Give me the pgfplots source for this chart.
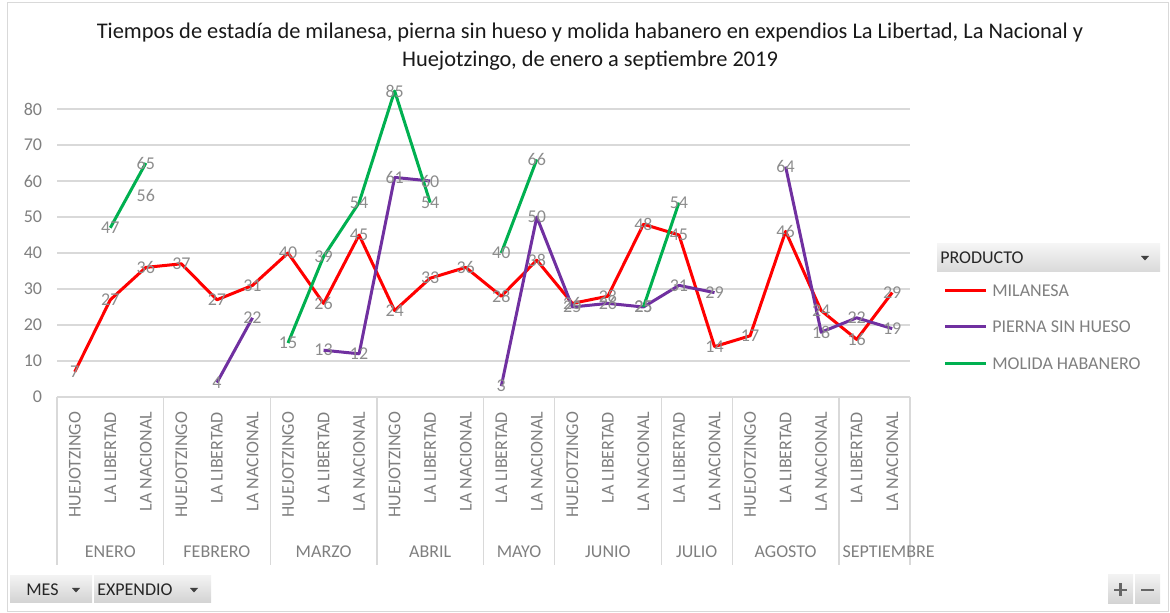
\documentclass[border=0pt]{standalone}
\usepackage{fontspec}
\setmainfont{Carlito}
\usepackage{pgfplots}
\usepackage{pgfplotstable}
\pgfplotsset{compat=1.18}
\definecolor{milred}{HTML}{FF0000}
\definecolor{piepur}{HTML}{7030A0}
\definecolor{molgrn}{HTML}{00B050}
\definecolor{gridc}{HTML}{D9D9D9}
\definecolor{lblc}{HTML}{8C8C8C}
\definecolor{tickc}{HTML}{7F7F7F}

% x: 0..23 = mes/expendio, mil = milanesa, pie = pierna sin hueso, mol = molida habanero
\pgfplotstableread{
x  mil pie mol
0  7   nan nan
1  27  nan 47
2  36  56  65
3  37  nan nan
4  27  4   nan
5  31  22  nan
6  40  nan 15
7  26  13  39
8  45  12  54
9  24  61  85
10 33  60  54
11 36  nan nan
12 28  3   40
13 38  50  66
14 26  25  nan
15 28  26  nan
16 48  25  25
17 45  31  54
18 14  29  nan
19 17  nan nan
20 46  64  nan
21 24  18  nan
22 16  22  nan
23 29  19  nan
}\datos

\begin{document}
\begin{tikzpicture}[font=\fontsize{13.5}{16}\selectfont]
\path[use as bounding box] (0,0) rectangle (877.5pt,459.75pt);
\begin{axis}[
  at={(42.75pt,162pt)}, anchor=south west,
  scale only axis, width=639.75pt, height=243pt,
  xmin=-0.5, xmax=23.5, ymin=0, ymax=90,
  /pgf/number format/assume math mode=true,
  ytick={0,10,...,80}, ymajorgrids, grid style={gridc, line width=1pt},
  xtick={0,...,23},
  xticklabels={HUEJOTZINGO,LA LIBERTAD,LA NACIONAL,HUEJOTZINGO,LA LIBERTAD,LA NACIONAL,
    HUEJOTZINGO,LA LIBERTAD,LA NACIONAL,HUEJOTZINGO,LA LIBERTAD,LA NACIONAL,
    LA LIBERTAD,LA NACIONAL,HUEJOTZINGO,LA LIBERTAD,LA NACIONAL,LA LIBERTAD,LA NACIONAL,
    HUEJOTZINGO,LA LIBERTAD,LA NACIONAL,LA LIBERTAD,LA NACIONAL},
  axis line style={draw=none}, major tick length=0pt,
  ticklabel style={tickc, font=\fontsize{13.5}{16}\selectfont},
  yticklabel style={anchor=east, inner sep=0pt, xshift=-11pt},
  xticklabel style={yshift=-11pt, rotate=90, anchor=east, inner sep=0pt},
  clip=false, unbounded coords=jump,
  nodes near coords,
  every node near coord/.append style={lblc, anchor=center, inner sep=0pt,
    font=\fontsize{13.5}{16}\selectfont},
  line join=round,
]
\addplot[milred, line width=2.25pt] table[x=x, y=mil]{\datos};
\addplot[piepur, line width=2.25pt] table[x=x, y=pie]{\datos};
\addplot[molgrn, line width=2.25pt] table[x=x, y=mol]{\datos};

\draw[gridc, line width=1pt]
  (axis cs:-0.5,0) -- (axis cs:-0.5,-46.7)
  (axis cs:2.5,0) -- (axis cs:2.5,-46.7)
  (axis cs:5.5,0) -- (axis cs:5.5,-46.7)
  (axis cs:8.5,0) -- (axis cs:8.5,-46.7)
  (axis cs:11.5,0) -- (axis cs:11.5,-46.7)
  (axis cs:13.5,0) -- (axis cs:13.5,-46.7)
  (axis cs:16.5,0) -- (axis cs:16.5,-46.7)
  (axis cs:18.5,0) -- (axis cs:18.5,-46.7)
  (axis cs:21.5,0) -- (axis cs:21.5,-46.7)
  (axis cs:23.5,0) -- (axis cs:23.5,-46.7);
\begin{scope}[every node/.style={tickc}]
\node at (axis cs:1,-43) {ENERO};
\node at (axis cs:4,-43) {FEBRERO};
\node at (axis cs:7,-43) {MARZO};
\node at (axis cs:10,-43) {ABRIL};
\node at (axis cs:12.5,-43) {MAYO};
\node at (axis cs:15,-43) {JUNIO};
\node at (axis cs:17.5,-43) {JULIO};
\node at (axis cs:20,-43) {AGOSTO};
\node at (axis cs:22.9,-43) {SEPTIEMBRE};
\end{scope}
\end{axis}

% pixel grid of the 1170x613 reference, origin top left
\begin{scope}[x=0.75pt, y=-0.75pt, shift={(0pt,459.75pt)}]
\draw[gridc, line width=0.75pt] (7,3) rectangle (1168,612);
\node[align=center, black!90, font=\fontsize{16.8}{21}\selectfont] at (590,47)
  {Tiempos de estadía de milanesa, pierna sin hueso y molida habanero en expendios La Libertad, La Nacional y\\Huejotzingo, de enero a septiembre 2019};

% legend
\shade[top color=gray!8, bottom color=gray!30] (937,244) rectangle (1160,272);
\node[anchor=west, inner sep=0pt, black!85] at (940,258) {PRODUCTO};
\fill[black!75] (1141,256) -- (1149,256) -- (1145,260.5) -- cycle;
\draw[milred, line width=2.25pt] (945,291) -- (986,291);
\node[anchor=west, inner sep=0pt, tickc] at (992,291) {MILANESA};
\draw[piepur, line width=2.25pt] (945,327) -- (986,327);
\node[anchor=west, inner sep=0pt, tickc] at (992,327) {PIERNA SIN HUESO};
\draw[molgrn, line width=2.25pt] (945,364) -- (986,364);
\node[anchor=west, inner sep=0pt, tickc] at (992,364) {MOLIDA HABANERO};

% field buttons
\shade[top color=gray!10, bottom color=gray!35] (10,576) rectangle (92,603);
\node[anchor=west, inner sep=0pt, black!85] at (26,590) {MES};
\fill[black!75] (72,588) -- (80,588) -- (76,592.5) -- cycle;
\shade[top color=gray!10, bottom color=gray!35] (94,576) rectangle (211,603);
\node[anchor=west, inner sep=0pt, black!85] at (97,590) {EXPENDIO};
\fill[black!75] (190,588) -- (198,588) -- (194,592.5) -- cycle;
\shade[top color=gray!10, bottom color=gray!35] (1108,575) rectangle (1133,604);
\shade[top color=gray!10, bottom color=gray!35] (1135,575) rectangle (1160,604);
\draw[black!60, line width=1.8pt] (1114,590) -- (1127,590) (1120.5,583.5) -- (1120.5,596.5);
\draw[black!60, line width=1.8pt] (1141,590) -- (1154,590);
\end{scope}
\end{tikzpicture}
\end{document}
